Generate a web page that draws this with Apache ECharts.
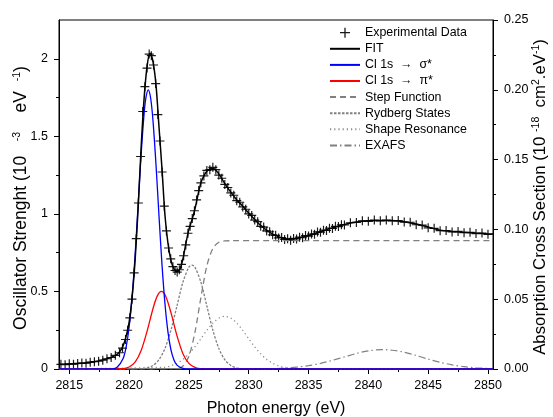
<!DOCTYPE html>
<html>
<head>
<meta charset="utf-8">
<script src="https://cdn.jsdelivr.net/npm/echarts@6/dist/echarts.min.js"></script>
<style>html,body{margin:0;padding:0;background:#fff}#c{width:553px;height:417px}</style>
</head>
<body>
<div id="c"></div>
<script>
// ---------- axes ----------
const xMin = 2814.14, xMax = 2850.42;
const xTicks = [2815, 2820, 2825, 2830, 2835, 2840, 2845, 2850];
const xMinorTicks = [2817.5, 2822.5, 2827.5, 2832.5, 2837.5, 2842.5, 2847.5];
const yLeftTicks = [0, 0.5, 1, 1.5, 2];
const yLeftMinorTicks = [0.25, 0.75, 1.25, 1.75];
const yLeftMax = 2.25, yRightMax = 0.25;
const xTitle = 'Photon energy (eV)';
const yLeftTitle = 'Oscillator Strenght (10   {s|-3}    eV  {s|-1})';
const yRightTitle = 'Absorption Cross Section (10 {s|-18}  cm{s|2}.eV{s|-1})';

// ---------- experimental data (left axis units) ----------
const expE = [2814.3,2814.65,2815.0,2815.35,2815.7,2816.05,2816.4,2816.75,2817.1,2817.45,2817.8,2818.15,2818.5,2818.85,2819.2,2819.45,
2819.7,2819.88,2820.06,2820.24,2820.42,2820.6,2820.78,2820.96,2821.14,2821.32,2821.5,2821.68,2821.86,2822.04,2822.22,2822.4,2822.58,2822.76,2822.94,2823.12,2823.3,2823.48,2823.66,2823.84,2824.02,2824.2,2824.38,2824.56,2824.74,2824.92,2825.1,2825.28,2825.46,2825.64,2825.82,2826.0,
2826.25,2826.5,2826.75,2827.0,2827.25,2827.5,2827.75,2828.0,2828.25,2828.5,2828.75,2829.0,2829.25,2829.5,2829.75,2830.0,2830.25,2830.5,2830.75,2831.0,2831.25,2831.5,2831.75,2832.0,2832.25,2832.5,2832.75,2833.0,2833.25,2833.5,2833.75,2834.0,2834.25,2834.5,2834.75,2835.0,2835.25,2835.5,2835.75,2836.0,2836.25,2836.5,2836.75,2837.0,2837.25,2837.5,2837.75,2838.0,
2838.5,2839.0,2839.5,2840.0,2840.5,2841.0,2841.5,2842.0,2842.5,2843.0,2843.5,2844.0,2844.5,2845.0,2845.5,2846.0,2846.5,2847.0,2847.5,2848.0,2848.5,2849.0,2849.5,2850.0];
const expV = [0.030,0.028,0.034,0.031,0.036,0.038,0.037,0.044,0.047,0.050,0.057,0.066,0.074,0.088,0.105,0.135,
0.19,0.25,0.33,0.45,0.62,0.84,1.07,1.37,1.66,1.82,1.94,2.03,2.02,1.96,1.84,1.64,1.47,1.27,1.05,0.89,0.78,0.71,0.66,0.635,0.625,0.64,0.675,0.73,0.80,0.875,0.92,0.97,1.02,1.09,1.15,1.20,
1.245,1.28,1.285,1.30,1.285,1.25,1.23,1.19,1.17,1.135,1.12,1.085,1.075,1.045,1.03,1.00,0.99,0.96,0.95,0.92,0.915,0.89,0.885,0.865,0.862,0.845,0.848,0.835,0.84,0.83,0.842,0.838,0.85,0.846,0.86,0.857,0.87,0.869,0.884,0.882,0.895,0.893,0.908,0.906,0.92,0.918,0.93,0.929,
0.943,0.945,0.955,0.952,0.96,0.955,0.96,0.955,0.957,0.947,0.946,0.93,0.928,0.91,0.907,0.892,0.893,0.884,0.887,0.879,0.881,0.873,0.876,0.868];

// ---------- fit ----------
const fitE = [2814.14,2815,2816,2817,2818,2818.5,2819,2819.25,2819.5,2819.75,2820,2820.25,2820.5,2820.75,2821,2821.25,2821.5,2821.75,2822,2822.25,2822.5,2822.75,2823,2823.25,2823.5,2823.75,2824,2824.25,2824.5,2824.75,2825,2825.25,2825.5,2825.75,2826,2826.25,2826.5,2826.75,2827,2827.5,2828,2828.5,2829,2829.5,2830,2831,2832,2833,2833.5,2834,2835,2836,2837,2838,2839,2840,2841,2842,2843,2844,2845,2846,2847,2848,2849,2850,2850.42];
const fitV = [0.03,0.032,0.037,0.045,0.062,0.075,0.095,0.115,0.15,0.21,0.30,0.46,0.70,1.03,1.42,1.74,1.95,2.035,1.98,1.83,1.56,1.29,0.99,0.81,0.70,0.645,0.627,0.645,0.71,0.81,0.90,0.96,1.03,1.12,1.20,1.245,1.275,1.29,1.294,1.258,1.195,1.14,1.09,1.05,1.005,0.925,0.87,0.84,0.836,0.842,0.86,0.885,0.91,0.932,0.947,0.955,0.958,0.957,0.95,0.935,0.915,0.895,0.887,0.882,0.876,0.871,0.87];

// ---------- components ----------
const sigmaE = [2814.14,2818.5,2819,2819.5,2819.75,2820,2820.25,2820.5,2820.75,2821,2821.25,2821.4,2821.6,2821.8,2822,2822.25,2822.5,2822.75,2823,2823.25,2823.5,2823.75,2824,2824.5,2825,2850.42];
const sigmaV = [0,0.001,0.012,0.068,0.141,0.269,0.464,0.732,1.052,1.377,1.643,1.747,1.80,1.747,1.598,1.315,0.986,0.673,0.419,0.238,0.123,0.058,0.025,0.004,0,0];
const piE = [2814.14,2819.5,2820,2820.5,2821,2821.5,2822,2822.35,2822.7,2823.05,2823.5,2824,2824.5,2825,2825.5,2826,2850.42];
const piV = [0,0.003,0.013,0.044,0.118,0.243,0.39,0.47,0.50,0.47,0.363,0.215,0.099,0.036,0.010,0.002,0];
const stepE = [2814.14,2824,2824.5,2825,2825.5,2826,2826.5,2827,2827.5,2828,2828.5,2850.42];
const stepV = [0,0.003,0.019,0.083,0.235,0.46,0.665,0.777,0.817,0.826,0.827,0.827];
const rydE = [2814.14,2821,2821.5,2822,2822.5,2823,2823.5,2824,2824.5,2825,2825.25,2825.5,2826,2826.5,2827,2827.5,2828,2828.5,2829,2829.5,2850.42];
const rydV = [0,0.002,0.007,0.023,0.060,0.133,0.251,0.406,0.560,0.657,0.67,0.657,0.560,0.406,0.251,0.133,0.060,0.023,0.007,0.002,0];
const shapeE = [2814.14,2823,2823.5,2824,2824.5,2825,2825.5,2826,2826.5,2827,2827.5,2828,2828.5,2829,2829.5,2830,2830.5,2831,2831.5,2832,2832.5,2833,2833.5,2834,2850.42];
const shapeV = [0,0.011,0.021,0.037,0.062,0.098,0.143,0.195,0.249,0.296,0.328,0.34,0.328,0.296,0.249,0.195,0.143,0.098,0.062,0.037,0.021,0.011,0.005,0.002,0];
const exafsE = [2814.14,2830,2832,2833,2834,2835,2836,2837,2838,2839,2840,2841.2,2842,2843,2844,2845,2846,2847,2848,2849,2850.42];
const exafsV = [0,0.0004,0.0026,0.0057,0.0116,0.0215,0.036,0.056,0.078,0.100,0.117,0.125,0.121,0.108,0.087,0.064,0.043,0.027,0.015,0.008,0.0025];

const zip = (a, b) => a.map((v, i) => [v, b[i]]);
const FONT = 'Liberation Sans, Arial, sans-serif';
const GRAY = '#808080';
const plusPath = 'path://M4.35,0 H5.65 V4.35 H10 V5.65 H5.65 V10 H4.35 V5.65 H0 V4.35 H4.35 Z';

const chart = echarts.init(document.getElementById('c'), null, {renderer: 'canvas'});

function lineSeries(name, data, color, width, type) {
  return {
    name, type: 'line', data, xAxisIndex: 0, yAxisIndex: 0,
    showSymbol: false, symbol: 'none', smooth: 0.3, animation: false,
    lineStyle: {color, width, type: type || 'solid'},
    itemStyle: {color}
  };
}
const noSym = {color: 'rgba(0,0,0,0)', borderColor: 'rgba(0,0,0,0)', borderWidth: 0, opacity: 0};
const SIG = 'Cl 1s  \u2192  \u03c3*', PI = 'Cl 1s  \u2192  \u03c0*';
const supRich = {s: {fontFamily: FONT, fontSize: 10.5, fill: '#000', color: '#000', verticalAlign: 'top', padding: [0, 0, 7, 0]}};

function vTitle(text, x, y, size) {
  return {
    type: 'text', x, y, rotation: Math.PI / 2, silent: true, z: 100,
    style: {text, fontFamily: FONT, fontSize: size, fill: '#000', align: 'center', verticalAlign: 'middle', rich: supRich}
  };
}

const option = {
  animation: false,
  textStyle: {fontFamily: FONT},
  grid: {left: 59, right: 60, top: 20, bottom: 48, show: true, borderColor: '#000', borderWidth: 1, outerBoundsMode: 'none', containLabel: false},
  graphic: [
    vTitle(yLeftTitle, 21, 198, 17.5),
    vTitle(yRightTitle, 540, 197, 16.8)
  ],
  legend: {
    orient: 'vertical', left: 324, top: 21.7, itemWidth: 30, itemHeight: 10, itemGap: 4.1,
    textStyle: {fontFamily: FONT, fontSize: 12.4, color: '#000'},
    data: [
      {name: 'Experimental Data'},
      {name: 'FIT', itemStyle: noSym},
      {name: SIG, itemStyle: noSym},
      {name: PI, itemStyle: noSym},
      {name: 'Step Function', itemStyle: noSym},
      {name: 'Rydberg States', itemStyle: noSym},
      {name: 'Shape Resonance', itemStyle: noSym},
      {name: 'EXAFS', itemStyle: noSym}
    ]
  },
  xAxis: [
    {
      type: 'value', min: xMin, max: xMax, position: 'bottom',
      name: xTitle, nameLocation: 'middle', nameGap: 32,
      nameTextStyle: {fontFamily: FONT, fontSize: 16, color: '#000'},
      axisLine: {show: true, lineStyle: {color: '#000', width: 1}},
      axisTick: {show: true, length: 5, inside: false, customValues: xTicks, lineStyle: {color: '#000'}},
      axisLabel: {show: true, customValues: xTicks, margin: 10, fontFamily: FONT, fontSize: 12.5, color: '#000', formatter: v => String(v)},
      splitLine: {show: false}
    },
    {
      type: 'value', min: xMin, max: xMax, position: 'bottom',
      axisLine: {show: false},
      axisTick: {show: true, length: 3, customValues: xMinorTicks, lineStyle: {color: '#000'}},
      axisLabel: {show: false, customValues: xMinorTicks},
      splitLine: {show: false}
    }
  ],
  yAxis: [
    {
      type: 'value', min: 0, max: yLeftMax, position: 'left',
      axisLine: {show: true, lineStyle: {color: '#000', width: 1}},
      axisTick: {show: true, length: 5, customValues: yLeftTicks, lineStyle: {color: '#000'}},
      axisLabel: {show: true, customValues: yLeftTicks, margin: 11, fontFamily: FONT, fontSize: 12.5, color: '#000', formatter: v => String(v)},
      splitLine: {show: false}
    },
    {
      type: 'value', min: 0, max: yRightMax, interval: 0.05, position: 'right',
      axisLine: {show: true, lineStyle: {color: '#000', width: 1}},
      axisTick: {show: true, length: 5, lineStyle: {color: '#000'}},
      minorTick: {show: true, splitNumber: 2, length: 3, lineStyle: {color: '#000'}},
      axisLabel: {show: true, margin: 11, fontFamily: FONT, fontSize: 12.5, color: '#000', formatter: v => v.toFixed(2)},
      splitLine: {show: false}, minorSplitLine: {show: false}
    },
    {
      type: 'value', min: 0, max: yLeftMax, position: 'left',
      axisLine: {show: false},
      axisTick: {show: true, length: 3, customValues: yLeftMinorTicks, lineStyle: {color: '#000'}},
      axisLabel: {show: false, customValues: yLeftMinorTicks},
      splitLine: {show: false}
    }
  ],
  series: [
    lineSeries('Step Function', zip(stepE, stepV), GRAY, 1.3, [6, 4]),
    lineSeries('Rydberg States', zip(rydE, rydV), GRAY, 1.3, [2.5, 1.5]),
    lineSeries('Shape Resonance', zip(shapeE, shapeV), '#8c8c8c', 1.3, [1.2, 3]),
    lineSeries('EXAFS', zip(exafsE, exafsV), GRAY, 1.2, [7, 3, 1.5, 3]),
    lineSeries(PI, zip(piE, piV), '#ff0000', 1.3),
    lineSeries(SIG, zip(sigmaE, sigmaV), '#0000ff', 1.3),
    lineSeries('FIT', zip(fitE, fitV), '#000000', 1.5),
    {
      name: 'Experimental Data', type: 'scatter', data: zip(expE, expV), xAxisIndex: 0, yAxisIndex: 0,
      symbol: plusPath, symbolSize: 9, animation: false,
      itemStyle: {color: '#000', opacity: 0.9}
    }
  ]
};
chart.setOption(option);
</script>
</body>
</html>
